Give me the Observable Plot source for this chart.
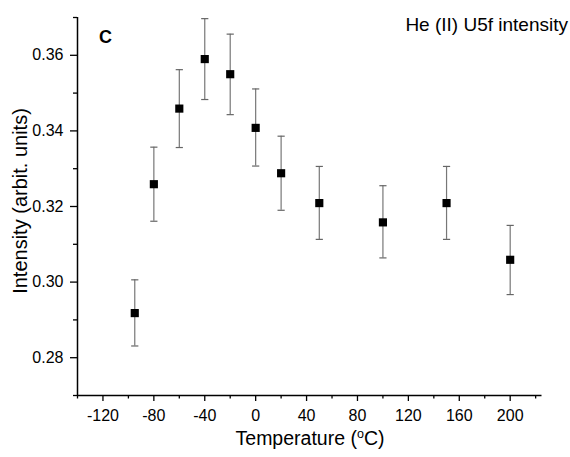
<!DOCTYPE html>
<html>
<head>
<meta charset="utf-8">
<script src="https://cdn.jsdelivr.net/npm/d3@7"></script>
<script src="https://cdn.jsdelivr.net/npm/@observablehq/plot@0.6"></script>
<style>
  html, body { margin: 0; padding: 0; background: #fff; }
</style>
</head>
<body>
<div id="chart"></div>
<script>
// ---- data ----
const temps     = [-95, -80, -60, -40, -20, 0, 20, 50, 100, 150, 200];
const intensity = [0.2918, 0.3259, 0.3459, 0.3590, 0.3550, 0.3408, 0.3288, 0.3209, 0.3158, 0.3209, 0.3059];
const errLow    = [0.2831, 0.3161, 0.3356, 0.3483, 0.3443, 0.3307, 0.3190, 0.3113, 0.3064, 0.3113, 0.2967];
const errHigh   = [0.3006, 0.3357, 0.3562, 0.3697, 0.3656, 0.3511, 0.3386, 0.3306, 0.3255, 0.3306, 0.3150];

const xTicks      = [-120, -80, -40, 0, 40, 80, 120, 160, 200];
const xMinorTicks = [-140, -100, -60, -20, 20, 60, 100, 140, 180, 220];
const yTicks      = [0.28, 0.30, 0.32, 0.34, 0.36];
const yMinorTicks = [0.27, 0.29, 0.31, 0.33, 0.35, 0.37];

const panelLabel = "C";
const titleText  = "He (II) U5f intensity";
const yLabel     = "Intensity (arbit. units)";
const xLabelMain = "Temperature (";
const xLabelSup  = "o";
const xLabelEnd  = "C)";

const data = temps.map((t, i) => ({t, v: intensity[i], lo: errLow[i], hi: errHigh[i]}));

const capSymbol = {
  draw(ctx, size) {
    const w = Math.sqrt(size / Math.PI);
    ctx.moveTo(-w, 0);
    ctx.lineTo(w, 0);
  }
};

const FONT = "'Liberation Sans', Arial, Helvetica, sans-serif";

const svg = Plot.plot({
  width: 570,
  height: 457,
  marginLeft: 77,
  marginRight: 28.5,
  marginTop: 17,
  marginBottom: 62,
  style: {fontFamily: FONT, background: "#fff", color: "#000"},
  x: {domain: [-140, 225]},
  y: {domain: [0.27, 0.37]},
  marks: [
    Plot.ruleY([0.27], {stroke: "#000", strokeWidth: 1.5}),
    Plot.ruleX([-140], {stroke: "#000", strokeWidth: 1.5}),
    Plot.axisX(xTicks, {tickSize: 6, tickPadding: 8, fontSize: 16, label: null, strokeWidth: 1.3, tickFormat: d => String(d)}),
    Plot.axisX(xMinorTicks, {tickSize: 3.5, tickFormat: () => "", label: null, strokeWidth: 1.3}),
    Plot.axisY(yTicks, {tickSize: 7, tickPadding: 7, fontSize: 16, tickFormat: d => d.toFixed(2), label: null, strokeWidth: 1.3}),
    Plot.axisY(yMinorTicks, {tickSize: 4, tickFormat: () => "", label: null, strokeWidth: 1.3}),
    Plot.ruleX(data, {x: "t", y1: "lo", y2: "hi", stroke: "#777", strokeWidth: 1.2}),
    Plot.dot(data, {x: "t", y: "lo", symbol: capSymbol, r: 3.6, stroke: "#666", strokeWidth: 1.2, fill: "none"}),
    Plot.dot(data, {x: "t", y: "hi", symbol: capSymbol, r: 3.6, stroke: "#666", strokeWidth: 1.2, fill: "none"}),
    Plot.dot(data, {x: "t", y: "v", symbol: "square", r: 4.6, fill: "#000", stroke: "none"})
  ]
});

const s = d3.select(svg);

// panel letter
s.append("text")
  .attr("x", 105.5).attr("y", 43)
  .attr("font-family", FONT).attr("font-weight", "bold").attr("font-size", 18)
  .attr("fill", "#000")
  .text(panelLabel);

// title (top right)
s.append("text")
  .attr("x", 568).attr("y", 31)
  .attr("text-anchor", "end")
  .attr("font-family", FONT).attr("font-size", 19)
  .attr("fill", "#000")
  .text(titleText);

// y axis label
s.append("text")
  .attr("transform", "translate(26.5,201) rotate(-90)")
  .attr("text-anchor", "middle")
  .attr("font-family", FONT).attr("font-size", 20)
  .attr("fill", "#000")
  .text(yLabel);

// x axis label with superscript
const xl = s.append("text")
  .attr("x", 310).attr("y", 445)
  .attr("text-anchor", "middle")
  .attr("font-family", FONT).attr("font-size", 19.5)
  .attr("fill", "#000");
xl.append("tspan").text(xLabelMain);
xl.append("tspan").attr("font-size", 12.5).attr("dy", -7.5).text(xLabelSup);
xl.append("tspan").attr("dy", 7.5).text(xLabelEnd);

document.getElementById("chart").appendChild(svg);
</script>
</body>
</html>
